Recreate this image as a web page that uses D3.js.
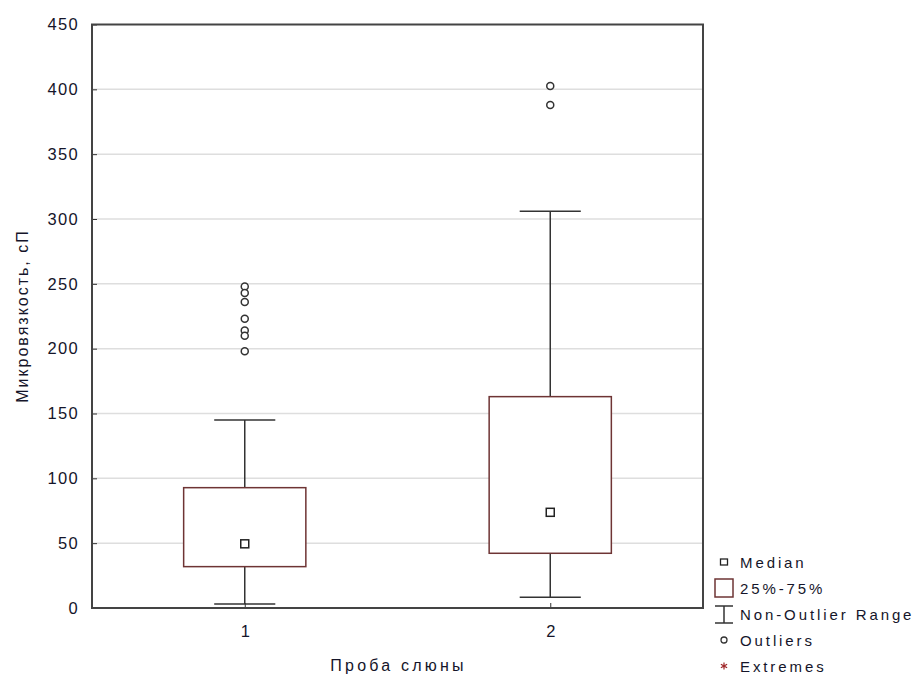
<!DOCTYPE html>
<html>
<head>
<meta charset="utf-8">
<script src="https://cdn.jsdelivr.net/npm/d3@7"></script>
<style>
  body { margin: 0; background: #fff; }
  text { font-family: "Liberation Sans", Arial, sans-serif; fill: #15152a; }
</style>
</head>
<body>
<svg id="chart" width="916" height="677"></svg>
<script>
"use strict";

// data
const groups = ["1", "2"];
const medians = [49.5, 73.8];
const q1s = [31.9, 42.2];
const q3s = [92.8, 163];
const whiskerLow = [3.1, 8.3];
const whiskerHigh = [145, 306];
const outliers = [
  [248, 243, 236, 223, 214, 210, 198],
  [402.5, 388]
];
const yTicks = [0, 50, 100, 150, 200, 250, 300, 350, 400, 450];
const legendLabels = ["Median", "25%-75%", "Non-Outlier Range", "Outliers", "Extremes"];

// layout
const plot = {left: 92, right: 703, top: 24.5, bottom: 608};
const boxColor = "#6e3434";
const lineColor = "#333";

const svg = d3.select("#chart");

const x = d3.scalePoint()
  .domain(groups)
  .range([plot.left, plot.right])
  .padding(0.5);

const y = d3.scaleLinear()
  .domain([0, 450])
  .range([plot.bottom, plot.top]);

const boxW = x.step() * 0.4;
const capW = boxW / 2;

// gridlines
svg.append("g")
  .selectAll("line")
  .data(yTicks.filter(d => d > 0 && d < 450))
  .join("line")
  .attr("x1", plot.left).attr("x2", plot.right)
  .attr("y1", d => y(d)).attr("y2", d => y(d))
  .attr("stroke", "#dedede")
  .attr("stroke-width", 1.5);

// y axis
const yAxis = svg.append("g")
  .attr("transform", `translate(${plot.left},0)`)
  .call(d3.axisLeft(y).tickValues(yTicks).tickSize(-5).tickPadding(13));
yAxis.select(".domain").remove();
yAxis.selectAll(".tick line").attr("stroke", lineColor);
yAxis.selectAll(".tick text")
  .attr("font-size", 16.5)
  .attr("letter-spacing", 1.3)
  .attr("fill", "#15152a");

// x axis
const xAxis = svg.append("g")
  .attr("transform", `translate(0,${plot.bottom})`)
  .call(d3.axisBottom(x).tickSize(-5).tickPadding(17));
xAxis.select(".domain").remove();
xAxis.selectAll(".tick line").attr("stroke", lineColor);
xAxis.selectAll(".tick text")
  .attr("font-size", 16.5)
  .attr("fill", "#15152a");

// whiskers
const wg = svg.append("g").attr("stroke", lineColor).attr("stroke-width", 1.5);
groups.forEach((g, i) => {
  const cx = x(g);
  wg.append("line")
    .attr("x1", cx).attr("x2", cx)
    .attr("y1", y(whiskerLow[i])).attr("y2", y(whiskerHigh[i]));
  [whiskerLow[i], whiskerHigh[i]].forEach(v => {
    wg.append("line")
      .attr("x1", cx - capW / 2).attr("x2", cx + capW / 2)
      .attr("y1", y(v)).attr("y2", y(v));
  });
});

// boxes
svg.append("g")
  .selectAll("rect")
  .data(groups)
  .join("rect")
  .attr("x", d => x(d) - boxW / 2)
  .attr("width", boxW)
  .attr("y", (d, i) => y(q3s[i]))
  .attr("height", (d, i) => y(q1s[i]) - y(q3s[i]))
  .attr("fill", "#fff")
  .attr("stroke", boxColor)
  .attr("stroke-width", 1.5);

// medians
svg.append("g")
  .selectAll("rect")
  .data(groups)
  .join("rect")
  .attr("x", d => x(d) - 4)
  .attr("y", (d, i) => y(medians[i]) - 4)
  .attr("width", 8).attr("height", 8)
  .attr("fill", "#fff")
  .attr("stroke", "#222")
  .attr("stroke-width", 1.5);

// outliers
const og = svg.append("g");
groups.forEach((g, i) => {
  og.selectAll(null)
    .data(outliers[i])
    .join("circle")
    .attr("cx", x(g))
    .attr("cy", d => y(d))
    .attr("r", 3.5)
    .attr("fill", "#fff")
    .attr("stroke", "#333")
    .attr("stroke-width", 1.5);
});

// frame
svg.append("rect")
  .attr("x", plot.left).attr("y", plot.top)
  .attr("width", plot.right - plot.left)
  .attr("height", plot.bottom - plot.top)
  .attr("fill", "none")
  .attr("stroke", "#444")
  .attr("stroke-width", 2);

// axis titles
svg.append("text")
  .attr("x", (plot.left + plot.right) / 2 + 1)
  .attr("y", 671)
  .attr("text-anchor", "middle")
  .attr("font-size", 16)
  .attr("letter-spacing", 3.2)
  .text("Проба слюны");

svg.append("text")
  .attr("transform", "translate(28,316) rotate(-90)")
  .attr("text-anchor", "middle")
  .attr("font-size", 16)
  .attr("letter-spacing", 2)
  .text("Микровязкость, сП");

// legend
const lg = svg.append("g").attr("transform", "translate(724,0)");
const rowY = [562, 588, 614, 640, 666];
lg.selectAll("text")
  .data(legendLabels)
  .join("text")
  .attr("x", 16)
  .attr("y", (d, i) => rowY[i] + 5.5)
  .attr("font-size", 15)
  .attr("letter-spacing", 2.9)
  .text(d => d);

lg.append("rect")
  .attr("x", -3.5).attr("y", rowY[0] - 3)
  .attr("width", 7).attr("height", 6)
  .attr("fill", "none").attr("stroke", "#222").attr("stroke-width", 1.3);
lg.append("rect")
  .attr("x", -9).attr("y", rowY[1] - 9)
  .attr("width", 18).attr("height", 18)
  .attr("fill", "none").attr("stroke", boxColor).attr("stroke-width", 1.5);
const lw = lg.append("g").attr("stroke", lineColor).attr("stroke-width", 1.5);
lw.append("line").attr("x1", 0).attr("x2", 0).attr("y1", rowY[2] - 8).attr("y2", rowY[2] + 9);
lw.append("line").attr("x1", -9).attr("x2", 9).attr("y1", rowY[2] - 8).attr("y2", rowY[2] - 8);
lw.append("line").attr("x1", -9).attr("x2", 9).attr("y1", rowY[2] + 9).attr("y2", rowY[2] + 9);
lg.append("circle")
  .attr("cx", 0).attr("cy", rowY[3])
  .attr("r", 3).attr("fill", "none").attr("stroke", "#333").attr("stroke-width", 1.3);
lg.append("path")
  .attr("transform", `translate(0,${rowY[4]})`)
  .attr("d", d3.symbol(d3.symbolAsterisk, 36)())
  .attr("fill", "none")
  .attr("stroke", "#a0282a")
  .attr("stroke-width", 1.2);
</script>
</body>
</html>
